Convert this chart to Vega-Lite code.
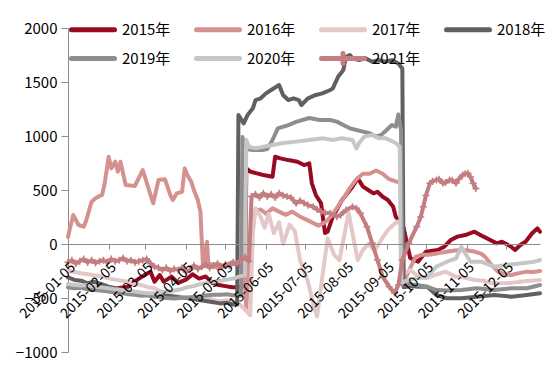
{
"$schema": "https://vega.github.io/schema/vega-lite/v6.json",
"width": 472, "height": 324,
"autosize": {"type": "none"},
"padding": {"left": 68, "top": 28, "right": 10, "bottom": 29},
"background": "white",
"config": {"view": {"stroke": null}, "font": "Noto Sans CJK SC"},
"data": {"values": [
{"s":"2015年","d":"2015-02-02","v":-430},{"s":"2015年","d":"2015-02-07","v":-420},{"s":"2015年","d":"2015-02-12","v":-410},{"s":"2015年","d":"2015-02-17","v":-400},{"s":"2015年","d":"2015-02-20","v":-395},{"s":"2015年","d":"2015-02-24","v":-350},{"s":"2015年","d":"2015-02-27","v":-330},{"s":"2015年","d":"2015-03-04","v":-290},{"s":"2015年","d":"2015-03-09","v":-256},{"s":"2015年","d":"2015-03-12","v":-349},{"s":"2015年","d":"2015-03-16","v":-287},{"s":"2015年","d":"2015-03-19","v":-349},{"s":"2015年","d":"2015-03-25","v":-302},{"s":"2015年","d":"2015-03-30","v":-360},{"s":"2015年","d":"2015-04-05","v":-330},{"s":"2015年","d":"2015-04-10","v":-280},{"s":"2015年","d":"2015-04-15","v":-320},{"s":"2015年","d":"2015-04-20","v":-300},{"s":"2015年","d":"2015-04-25","v":-360},{"s":"2015年","d":"2015-04-30","v":-380},{"s":"2015年","d":"2015-05-05","v":-390},{"s":"2015年","d":"2015-05-10","v":-400},{"s":"2015年","d":"2015-05-15","v":-400},{"s":"2015年","d":"2015-05-20","v":-390},{"s":"2015年","d":"2015-05-21","v":700},{"s":"2015年","d":"2015-05-24","v":670},{"s":"2015年","d":"2015-05-29","v":654},{"s":"2015年","d":"2015-06-03","v":639},{"s":"2015年","d":"2015-06-10","v":623},{"s":"2015年","d":"2015-06-12","v":808},{"s":"2015年","d":"2015-06-16","v":793},{"s":"2015年","d":"2015-06-22","v":777},{"s":"2015年","d":"2015-06-29","v":762},{"s":"2015年","d":"2015-07-04","v":731},{"s":"2015年","d":"2015-07-08","v":747},{"s":"2015年","d":"2015-07-10","v":562},{"s":"2015年","d":"2015-07-13","v":454},{"s":"2015年","d":"2015-07-17","v":377},{"s":"2015年","d":"2015-07-20","v":102},{"s":"2015年","d":"2015-07-22","v":114},{"s":"2015年","d":"2015-07-26","v":253},{"s":"2015年","d":"2015-08-02","v":407},{"s":"2015年","d":"2015-08-10","v":531},{"s":"2015年","d":"2015-08-14","v":608},{"s":"2015年","d":"2015-08-18","v":531},{"s":"2015年","d":"2015-08-22","v":500},{"s":"2015年","d":"2015-08-26","v":469},{"s":"2015年","d":"2015-08-29","v":484},{"s":"2015年","d":"2015-09-02","v":438},{"s":"2015年","d":"2015-09-06","v":407},{"s":"2015年","d":"2015-09-10","v":345},{"s":"2015年","d":"2015-09-12","v":253},{"s":"2015年","d":"2015-09-14","v":222},{"s":"2015年","d":"2015-09-18","v":150},{"s":"2015年","d":"2015-09-23","v":-130},{"s":"2015年","d":"2015-09-29","v":-164},{"s":"2015年","d":"2015-10-05","v":-71},{"s":"2015年","d":"2015-10-14","v":-55},{"s":"2015年","d":"2015-10-19","v":-25},{"s":"2015年","d":"2015-10-24","v":37},{"s":"2015年","d":"2015-10-29","v":68},{"s":"2015年","d":"2015-11-04","v":83},{"s":"2015年","d":"2015-11-11","v":114},{"s":"2015年","d":"2015-11-18","v":68},{"s":"2015年","d":"2015-11-23","v":37},{"s":"2015年","d":"2015-11-28","v":6},{"s":"2015年","d":"2015-12-02","v":21},{"s":"2015年","d":"2015-12-09","v":-25},{"s":"2015年","d":"2015-12-12","v":-55},{"s":"2015年","d":"2015-12-16","v":-9},{"s":"2015年","d":"2015-12-20","v":21},{"s":"2015年","d":"2015-12-25","v":99},{"s":"2015年","d":"2015-12-29","v":145},{"s":"2015年","d":"2015-12-31","v":114},
{"s":"2016年","d":"2015-01-05","v":65},{"s":"2016年","d":"2015-01-06","v":120},{"s":"2016年","d":"2015-01-09","v":269},{"s":"2016年","d":"2015-01-13","v":176},{"s":"2016年","d":"2015-01-17","v":160},{"s":"2016年","d":"2015-01-19","v":222},{"s":"2016年","d":"2015-01-23","v":392},{"s":"2016年","d":"2015-01-26","v":423},{"s":"2016年","d":"2015-01-28","v":438},{"s":"2016年","d":"2015-01-31","v":454},{"s":"2016年","d":"2015-02-02","v":562},{"s":"2016年","d":"2015-02-05","v":808},{"s":"2016年","d":"2015-02-07","v":700},{"s":"2016年","d":"2015-02-10","v":762},{"s":"2016年","d":"2015-02-12","v":670},{"s":"2016年","d":"2015-02-14","v":762},{"s":"2016年","d":"2015-02-18","v":546},{"s":"2016年","d":"2015-02-25","v":537},{"s":"2016年","d":"2015-03-03","v":685},{"s":"2016年","d":"2015-03-07","v":531},{"s":"2016年","d":"2015-03-11","v":377},{"s":"2016年","d":"2015-03-15","v":593},{"s":"2016年","d":"2015-03-20","v":599},{"s":"2016年","d":"2015-03-24","v":454},{"s":"2016年","d":"2015-03-26","v":407},{"s":"2016年","d":"2015-03-29","v":469},{"s":"2016年","d":"2015-04-02","v":484},{"s":"2016年","d":"2015-04-04","v":700},{"s":"2016年","d":"2015-04-06","v":639},{"s":"2016年","d":"2015-04-09","v":577},{"s":"2016年","d":"2015-04-11","v":500},{"s":"2016年","d":"2015-04-14","v":407},{"s":"2016年","d":"2015-04-16","v":299},{"s":"2016年","d":"2015-04-17","v":37},{"s":"2016年","d":"2015-04-18","v":-210},{"s":"2016年","d":"2015-04-21","v":21},{"s":"2016年","d":"2015-04-22","v":-176},{"s":"2016年","d":"2015-04-26","v":-200},{"s":"2016年","d":"2015-04-30","v":-230},{"s":"2016年","d":"2015-05-05","v":-200},{"s":"2016年","d":"2015-05-10","v":-170},{"s":"2016年","d":"2015-05-15","v":-210},{"s":"2016年","d":"2015-05-19","v":-120},{"s":"2016年","d":"2015-05-21","v":-600},{"s":"2016年","d":"2015-05-23","v":-150},{"s":"2016年","d":"2015-05-26","v":300},{"s":"2016年","d":"2015-06-01","v":320},{"s":"2016年","d":"2015-06-05","v":280},{"s":"2016年","d":"2015-06-10","v":330},{"s":"2016年","d":"2015-06-15","v":300},{"s":"2016年","d":"2015-06-20","v":270},{"s":"2016年","d":"2015-06-25","v":300},{"s":"2016年","d":"2015-06-30","v":260},{"s":"2016年","d":"2015-07-05","v":230},{"s":"2016年","d":"2015-07-10","v":200},{"s":"2016年","d":"2015-07-15","v":170},{"s":"2016年","d":"2015-07-20","v":200},{"s":"2016年","d":"2015-07-25","v":260},{"s":"2016年","d":"2015-07-30","v":350},{"s":"2016年","d":"2015-08-04","v":440},{"s":"2016年","d":"2015-08-08","v":520},{"s":"2016年","d":"2015-08-13","v":600},{"s":"2016年","d":"2015-08-18","v":650},{"s":"2016年","d":"2015-08-23","v":650},{"s":"2016年","d":"2015-08-28","v":680},{"s":"2016年","d":"2015-09-02","v":650},{"s":"2016年","d":"2015-09-07","v":600},{"s":"2016年","d":"2015-09-12","v":580},{"s":"2016年","d":"2015-09-16","v":560},{"s":"2016年","d":"2015-09-18","v":-350},{"s":"2016年","d":"2015-09-22","v":-250},{"s":"2016年","d":"2015-09-27","v":-120},{"s":"2016年","d":"2015-10-02","v":-100},{"s":"2016年","d":"2015-10-07","v":-100},{"s":"2016年","d":"2015-10-12","v":-90},{"s":"2016年","d":"2015-10-17","v":-80},{"s":"2016年","d":"2015-10-22","v":-70},{"s":"2016年","d":"2015-10-27","v":-60},{"s":"2016年","d":"2015-11-01","v":-55},{"s":"2016年","d":"2015-11-06","v":-60},{"s":"2016年","d":"2015-11-11","v":-70},{"s":"2016年","d":"2015-11-16","v":-90},{"s":"2016年","d":"2015-11-19","v":-117},{"s":"2016年","d":"2015-11-24","v":-194},{"s":"2016年","d":"2015-11-29","v":-256},{"s":"2016年","d":"2015-12-04","v":-280},{"s":"2016年","d":"2015-12-09","v":-287},{"s":"2016年","d":"2015-12-15","v":-270},{"s":"2016年","d":"2015-12-21","v":-256},{"s":"2016年","d":"2015-12-26","v":-260},{"s":"2016年","d":"2015-12-31","v":-250},
{"s":"2017年","d":"2015-01-05","v":-240},{"s":"2017年","d":"2015-01-10","v":-260},{"s":"2017年","d":"2015-01-15","v":-270},{"s":"2017年","d":"2015-01-20","v":-280},{"s":"2017年","d":"2015-01-25","v":-290},{"s":"2017年","d":"2015-01-30","v":-300},{"s":"2017年","d":"2015-02-05","v":-318},{"s":"2017年","d":"2015-02-10","v":-330},{"s":"2017年","d":"2015-02-15","v":-340},{"s":"2017年","d":"2015-02-20","v":-350},{"s":"2017年","d":"2015-02-25","v":-370},{"s":"2017年","d":"2015-03-02","v":-380},{"s":"2017年","d":"2015-03-07","v":-400},{"s":"2017年","d":"2015-03-12","v":-410},{"s":"2017年","d":"2015-03-17","v":-440},{"s":"2017年","d":"2015-03-22","v":-460},{"s":"2017年","d":"2015-03-27","v":-480},{"s":"2017年","d":"2015-04-01","v":-490},{"s":"2017年","d":"2015-04-06","v":-500},{"s":"2017年","d":"2015-04-11","v":-500},{"s":"2017年","d":"2015-04-16","v":-510},{"s":"2017年","d":"2015-04-21","v":-500},{"s":"2017年","d":"2015-04-26","v":-520},{"s":"2017年","d":"2015-05-01","v":-530},{"s":"2017年","d":"2015-05-06","v":-520},{"s":"2017年","d":"2015-05-11","v":-540},{"s":"2017年","d":"2015-05-16","v":-560},{"s":"2017年","d":"2015-05-21","v":-620},{"s":"2017年","d":"2015-05-24","v":-660},{"s":"2017年","d":"2015-05-26","v":100},{"s":"2017年","d":"2015-05-28","v":330},{"s":"2017年","d":"2015-06-01","v":250},{"s":"2017年","d":"2015-06-04","v":150},{"s":"2017年","d":"2015-06-07","v":280},{"s":"2017年","d":"2015-06-11","v":100},{"s":"2017年","d":"2015-06-15","v":200},{"s":"2017年","d":"2015-06-18","v":0},{"s":"2017年","d":"2015-06-23","v":180},{"s":"2017年","d":"2015-06-27","v":120},{"s":"2017年","d":"2015-07-01","v":-150},{"s":"2017年","d":"2015-07-07","v":-350},{"s":"2017年","d":"2015-07-11","v":-550},{"s":"2017年","d":"2015-07-14","v":-670},{"s":"2017年","d":"2015-07-18","v":-300},{"s":"2017年","d":"2015-07-22","v":50},{"s":"2017年","d":"2015-07-27","v":-100},{"s":"2017年","d":"2015-07-31","v":-150},{"s":"2017年","d":"2015-08-05","v":160},{"s":"2017年","d":"2015-08-07","v":290},{"s":"2017年","d":"2015-08-10","v":100},{"s":"2017年","d":"2015-08-14","v":-150},{"s":"2017年","d":"2015-08-18","v":-55},{"s":"2017年","d":"2015-08-22","v":0},{"s":"2017年","d":"2015-08-27","v":-60},{"s":"2017年","d":"2015-09-01","v":40},{"s":"2017年","d":"2015-09-06","v":130},{"s":"2017年","d":"2015-09-10","v":176},{"s":"2017年","d":"2015-09-13","v":207},{"s":"2017年","d":"2015-09-16","v":180},{"s":"2017年","d":"2015-09-18","v":-280},{"s":"2017年","d":"2015-09-23","v":-240},{"s":"2017年","d":"2015-09-29","v":-300},{"s":"2017年","d":"2015-10-05","v":-318},{"s":"2017年","d":"2015-10-12","v":-287},{"s":"2017年","d":"2015-10-20","v":-256},{"s":"2017年","d":"2015-10-27","v":-300},{"s":"2017年","d":"2015-11-03","v":-310},{"s":"2017年","d":"2015-11-11","v":-333},{"s":"2017年","d":"2015-11-18","v":-340},{"s":"2017年","d":"2015-11-25","v":-364},{"s":"2017年","d":"2015-12-02","v":-364},{"s":"2017年","d":"2015-12-09","v":-360},{"s":"2017年","d":"2015-12-16","v":-349},{"s":"2017年","d":"2015-12-23","v":-340},{"s":"2017年","d":"2015-12-31","v":-333},
{"s":"2018年","d":"2015-01-05","v":-310},{"s":"2018年","d":"2015-01-10","v":-333},{"s":"2018年","d":"2015-01-15","v":-340},{"s":"2018年","d":"2015-01-20","v":-364},{"s":"2018年","d":"2015-01-25","v":-350},{"s":"2018年","d":"2015-01-30","v":-370},{"s":"2018年","d":"2015-02-05","v":-395},{"s":"2018年","d":"2015-02-10","v":-410},{"s":"2018年","d":"2015-02-15","v":-426},{"s":"2018年","d":"2015-02-20","v":-441},{"s":"2018年","d":"2015-02-25","v":-450},{"s":"2018年","d":"2015-03-02","v":-457},{"s":"2018年","d":"2015-03-07","v":-465},{"s":"2018年","d":"2015-03-12","v":-472},{"s":"2018年","d":"2015-03-17","v":-470},{"s":"2018年","d":"2015-03-22","v":-480},{"s":"2018年","d":"2015-03-27","v":-488},{"s":"2018年","d":"2015-04-01","v":-495},{"s":"2018年","d":"2015-04-06","v":-500},{"s":"2018年","d":"2015-04-11","v":-510},{"s":"2018年","d":"2015-04-16","v":-520},{"s":"2018年","d":"2015-04-21","v":-530},{"s":"2018年","d":"2015-04-26","v":-540},{"s":"2018年","d":"2015-05-01","v":-550},{"s":"2018年","d":"2015-05-06","v":-545},{"s":"2018年","d":"2015-05-11","v":-560},{"s":"2018年","d":"2015-05-14","v":-560},{"s":"2018年","d":"2015-05-15","v":1195},{"s":"2018年","d":"2015-05-19","v":1117},{"s":"2018年","d":"2015-05-22","v":1195},{"s":"2018年","d":"2015-05-26","v":1256},{"s":"2018年","d":"2015-05-28","v":1333},{"s":"2018年","d":"2015-06-01","v":1349},{"s":"2018年","d":"2015-06-05","v":1395},{"s":"2018年","d":"2015-06-09","v":1426},{"s":"2018年","d":"2015-06-13","v":1457},{"s":"2018年","d":"2015-06-15","v":1472},{"s":"2018年","d":"2015-06-18","v":1380},{"s":"2018年","d":"2015-06-22","v":1333},{"s":"2018年","d":"2015-06-26","v":1349},{"s":"2018年","d":"2015-06-30","v":1333},{"s":"2018年","d":"2015-07-02","v":1287},{"s":"2018年","d":"2015-07-07","v":1349},{"s":"2018年","d":"2015-07-13","v":1380},{"s":"2018年","d":"2015-07-18","v":1395},{"s":"2018年","d":"2015-07-24","v":1426},{"s":"2018年","d":"2015-07-26","v":1441},{"s":"2018年","d":"2015-07-30","v":1549},{"s":"2018年","d":"2015-08-03","v":1611},{"s":"2018年","d":"2015-08-05","v":1734},{"s":"2018年","d":"2015-08-08","v":1750},{"s":"2018年","d":"2015-08-10","v":1719},{"s":"2018年","d":"2015-08-15","v":1703},{"s":"2018年","d":"2015-08-20","v":1719},{"s":"2018年","d":"2015-08-25","v":1688},{"s":"2018年","d":"2015-08-30","v":1703},{"s":"2018年","d":"2015-09-04","v":1688},{"s":"2018年","d":"2015-09-09","v":1703},{"s":"2018年","d":"2015-09-14","v":1672},{"s":"2018年","d":"2015-09-17","v":1626},{"s":"2018年","d":"2015-09-18","v":-400},{"s":"2018年","d":"2015-09-24","v":-390},{"s":"2018年","d":"2015-09-29","v":-395},{"s":"2018年","d":"2015-10-06","v":-395},{"s":"2018年","d":"2015-10-13","v":-472},{"s":"2018年","d":"2015-10-21","v":-503},{"s":"2018年","d":"2015-11-01","v":-503},{"s":"2018年","d":"2015-11-13","v":-488},{"s":"2018年","d":"2015-11-26","v":-472},{"s":"2018年","d":"2015-12-09","v":-488},{"s":"2018年","d":"2015-12-21","v":-472},{"s":"2018年","d":"2015-12-31","v":-457},
{"s":"2019年","d":"2015-01-05","v":-400},{"s":"2019年","d":"2015-01-10","v":-410},{"s":"2019年","d":"2015-01-15","v":-405},{"s":"2019年","d":"2015-01-20","v":-420},{"s":"2019年","d":"2015-01-25","v":-425},{"s":"2019年","d":"2015-01-30","v":-430},{"s":"2019年","d":"2015-02-05","v":-440},{"s":"2019年","d":"2015-02-10","v":-450},{"s":"2019年","d":"2015-02-15","v":-455},{"s":"2019年","d":"2015-02-20","v":-465},{"s":"2019年","d":"2015-02-25","v":-470},{"s":"2019年","d":"2015-03-02","v":-480},{"s":"2019年","d":"2015-03-07","v":-475},{"s":"2019年","d":"2015-03-12","v":-490},{"s":"2019年","d":"2015-03-17","v":-495},{"s":"2019年","d":"2015-03-22","v":-500},{"s":"2019年","d":"2015-03-27","v":-505},{"s":"2019年","d":"2015-04-01","v":-500},{"s":"2019年","d":"2015-04-06","v":-495},{"s":"2019年","d":"2015-04-11","v":-490},{"s":"2019年","d":"2015-04-16","v":-485},{"s":"2019年","d":"2015-04-21","v":-475},{"s":"2019年","d":"2015-04-26","v":-470},{"s":"2019年","d":"2015-05-01","v":-470},{"s":"2019年","d":"2015-05-06","v":-465},{"s":"2019年","d":"2015-05-11","v":-475},{"s":"2019年","d":"2015-05-17","v":-480},{"s":"2019年","d":"2015-05-18","v":990},{"s":"2019年","d":"2015-05-21","v":880},{"s":"2019年","d":"2015-05-26","v":870},{"s":"2019年","d":"2015-06-02","v":870},{"s":"2019年","d":"2015-06-06","v":880},{"s":"2019年","d":"2015-06-10","v":963},{"s":"2019年","d":"2015-06-14","v":1070},{"s":"2019年","d":"2015-06-22","v":1100},{"s":"2019年","d":"2015-06-28","v":1130},{"s":"2019年","d":"2015-07-08","v":1167},{"s":"2019年","d":"2015-07-16","v":1148},{"s":"2019年","d":"2015-07-24","v":1148},{"s":"2019年","d":"2015-07-29","v":1133},{"s":"2019年","d":"2015-08-03","v":1102},{"s":"2019年","d":"2015-08-08","v":1071},{"s":"2019年","d":"2015-08-13","v":1056},{"s":"2019年","d":"2015-08-18","v":1040},{"s":"2019年","d":"2015-08-23","v":1025},{"s":"2019年","d":"2015-08-28","v":994},{"s":"2019年","d":"2015-09-01","v":1010},{"s":"2019年","d":"2015-09-05","v":1056},{"s":"2019年","d":"2015-09-09","v":1102},{"s":"2019年","d":"2015-09-12","v":1086},{"s":"2019年","d":"2015-09-14","v":1200},{"s":"2019年","d":"2015-09-16","v":1050},{"s":"2019年","d":"2015-09-17","v":-380},{"s":"2019年","d":"2015-09-22","v":-370},{"s":"2019年","d":"2015-09-28","v":-380},{"s":"2019年","d":"2015-10-06","v":-395},{"s":"2019年","d":"2015-10-13","v":-426},{"s":"2019年","d":"2015-10-21","v":-430},{"s":"2019年","d":"2015-11-01","v":-426},{"s":"2019年","d":"2015-11-13","v":-410},{"s":"2019年","d":"2015-11-26","v":-426},{"s":"2019年","d":"2015-12-09","v":-410},{"s":"2019年","d":"2015-12-21","v":-410},{"s":"2019年","d":"2015-12-31","v":-380},
{"s":"2020年","d":"2015-01-05","v":-370},{"s":"2020年","d":"2015-01-10","v":-380},{"s":"2020年","d":"2015-01-15","v":-385},{"s":"2020年","d":"2015-01-20","v":-380},{"s":"2020年","d":"2015-01-25","v":-395},{"s":"2020年","d":"2015-01-30","v":-400},{"s":"2020年","d":"2015-02-05","v":-410},{"s":"2020年","d":"2015-02-10","v":-420},{"s":"2020年","d":"2015-02-15","v":-426},{"s":"2020年","d":"2015-02-20","v":-435},{"s":"2020年","d":"2015-02-25","v":-441},{"s":"2020年","d":"2015-03-02","v":-450},{"s":"2020年","d":"2015-03-07","v":-455},{"s":"2020年","d":"2015-03-12","v":-457},{"s":"2020年","d":"2015-03-17","v":-450},{"s":"2020年","d":"2015-03-22","v":-440},{"s":"2020年","d":"2015-03-27","v":-430},{"s":"2020年","d":"2015-04-01","v":-420},{"s":"2020年","d":"2015-04-06","v":-400},{"s":"2020年","d":"2015-04-11","v":-390},{"s":"2020年","d":"2015-04-16","v":-370},{"s":"2020年","d":"2015-04-21","v":-360},{"s":"2020年","d":"2015-04-26","v":-350},{"s":"2020年","d":"2015-05-01","v":-340},{"s":"2020年","d":"2015-05-06","v":-330},{"s":"2020年","d":"2015-05-11","v":-320},{"s":"2020年","d":"2015-05-16","v":-300},{"s":"2020年","d":"2015-05-20","v":-290},{"s":"2020年","d":"2015-05-21","v":963},{"s":"2020年","d":"2015-05-23","v":901},{"s":"2020年","d":"2015-05-28","v":886},{"s":"2020年","d":"2015-06-03","v":901},{"s":"2020年","d":"2015-06-10","v":917},{"s":"2020年","d":"2015-06-18","v":935},{"s":"2020年","d":"2015-06-28","v":948},{"s":"2020年","d":"2015-07-08","v":963},{"s":"2020年","d":"2015-07-18","v":980},{"s":"2020年","d":"2015-07-26","v":963},{"s":"2020年","d":"2015-08-02","v":980},{"s":"2020年","d":"2015-08-10","v":963},{"s":"2020年","d":"2015-08-13","v":886},{"s":"2020年","d":"2015-08-15","v":935},{"s":"2020年","d":"2015-08-19","v":994},{"s":"2020年","d":"2015-08-25","v":1010},{"s":"2020年","d":"2015-08-30","v":980},{"s":"2020年","d":"2015-09-04","v":980},{"s":"2020年","d":"2015-09-12","v":935},{"s":"2020年","d":"2015-09-15","v":901},{"s":"2020年","d":"2015-09-16","v":-360},{"s":"2020年","d":"2015-09-22","v":-330},{"s":"2020年","d":"2015-09-28","v":-320},{"s":"2020年","d":"2015-10-06","v":-302},{"s":"2020年","d":"2015-10-13","v":-210},{"s":"2020年","d":"2015-10-21","v":-164},{"s":"2020年","d":"2015-10-28","v":-133},{"s":"2020年","d":"2015-11-01","v":-25},{"s":"2020年","d":"2015-11-04","v":-86},{"s":"2020年","d":"2015-11-08","v":-164},{"s":"2020年","d":"2015-11-16","v":-164},{"s":"2020年","d":"2015-11-26","v":-210},{"s":"2020年","d":"2015-12-06","v":-194},{"s":"2020年","d":"2015-12-17","v":-179},{"s":"2020年","d":"2015-12-27","v":-164},{"s":"2020年","d":"2015-12-31","v":-148},
{"s":"2021年","d":"2015-01-05","v":-170},{"s":"2021年","d":"2015-01-08","v":-150},{"s":"2021年","d":"2015-01-11","v":-180},{"s":"2021年","d":"2015-01-14","v":-160},{"s":"2021年","d":"2015-01-17","v":-140},{"s":"2021年","d":"2015-01-20","v":-170},{"s":"2021年","d":"2015-01-23","v":-150},{"s":"2021年","d":"2015-01-26","v":-175},{"s":"2021年","d":"2015-01-29","v":-160},{"s":"2021年","d":"2015-02-01","v":-150},{"s":"2021年","d":"2015-02-04","v":-170},{"s":"2021年","d":"2015-02-07","v":-140},{"s":"2021年","d":"2015-02-10","v":-160},{"s":"2021年","d":"2015-02-13","v":-150},{"s":"2021年","d":"2015-02-16","v":-130},{"s":"2021年","d":"2015-02-19","v":-160},{"s":"2021年","d":"2015-02-22","v":-150},{"s":"2021年","d":"2015-02-25","v":-170},{"s":"2021年","d":"2015-02-28","v":-160},{"s":"2021年","d":"2015-03-03","v":-150},{"s":"2021年","d":"2015-03-06","v":-140},{"s":"2021年","d":"2015-03-09","v":-180},{"s":"2021年","d":"2015-03-12","v":-210},{"s":"2021年","d":"2015-03-15","v":-220},{"s":"2021年","d":"2015-03-18","v":-240},{"s":"2021年","d":"2015-03-21","v":-220},{"s":"2021年","d":"2015-03-24","v":-250},{"s":"2021年","d":"2015-03-27","v":-230},{"s":"2021年","d":"2015-03-30","v":-240},{"s":"2021年","d":"2015-04-02","v":-220},{"s":"2021年","d":"2015-04-05","v":-260},{"s":"2021年","d":"2015-04-08","v":-240},{"s":"2021年","d":"2015-04-11","v":-200},{"s":"2021年","d":"2015-04-14","v":-230},{"s":"2021年","d":"2015-04-17","v":-210},{"s":"2021年","d":"2015-04-20","v":-190},{"s":"2021年","d":"2015-04-23","v":-220},{"s":"2021年","d":"2015-04-26","v":-200},{"s":"2021年","d":"2015-04-29","v":-180},{"s":"2021年","d":"2015-05-02","v":-210},{"s":"2021年","d":"2015-05-05","v":-190},{"s":"2021年","d":"2015-05-08","v":-200},{"s":"2021年","d":"2015-05-11","v":-170},{"s":"2021年","d":"2015-05-14","v":-180},{"s":"2021年","d":"2015-05-17","v":-150},{"s":"2021年","d":"2015-05-20","v":-120},{"s":"2021年","d":"2015-05-23","v":-160},{"s":"2021年","d":"2015-05-25","v":440},{"s":"2021年","d":"2015-05-28","v":460},{"s":"2021年","d":"2015-05-31","v":430},{"s":"2021年","d":"2015-06-03","v":470},{"s":"2021年","d":"2015-06-06","v":440},{"s":"2021年","d":"2015-06-09","v":460},{"s":"2021年","d":"2015-06-12","v":430},{"s":"2021年","d":"2015-06-15","v":470},{"s":"2021年","d":"2015-06-18","v":450},{"s":"2021年","d":"2015-06-21","v":440},{"s":"2021年","d":"2015-06-24","v":430},{"s":"2021年","d":"2015-06-28","v":377},{"s":"2021年","d":"2015-07-01","v":400},{"s":"2021年","d":"2015-07-04","v":380},{"s":"2021年","d":"2015-07-07","v":360},{"s":"2021年","d":"2015-07-11","v":345},{"s":"2021年","d":"2015-07-14","v":320},{"s":"2021年","d":"2015-07-17","v":300},{"s":"2021年","d":"2015-07-20","v":290},{"s":"2021年","d":"2015-07-24","v":284},{"s":"2021年","d":"2015-07-29","v":253},{"s":"2021年","d":"2015-08-01","v":270},{"s":"2021年","d":"2015-08-05","v":315},{"s":"2021年","d":"2015-08-10","v":345},{"s":"2021年","d":"2015-08-13","v":330},{"s":"2021年","d":"2015-08-16","v":284},{"s":"2021年","d":"2015-08-21","v":160},{"s":"2021年","d":"2015-08-25","v":9},{"s":"2021年","d":"2015-08-29","v":-148},{"s":"2021年","d":"2015-09-02","v":-302},{"s":"2021年","d":"2015-09-07","v":-395},{"s":"2021年","d":"2015-09-11","v":-453},{"s":"2021年","d":"2015-09-14","v":-380},{"s":"2021年","d":"2015-09-17","v":-148},{"s":"2021年","d":"2015-09-22","v":9},{"s":"2021年","d":"2015-09-28","v":160},{"s":"2021年","d":"2015-10-01","v":250},{"s":"2021年","d":"2015-10-03","v":345},{"s":"2021年","d":"2015-10-05","v":450},{"s":"2021年","d":"2015-10-08","v":562},{"s":"2021年","d":"2015-10-10","v":580},{"s":"2021年","d":"2015-10-13","v":593},{"s":"2021年","d":"2015-10-15","v":600},{"s":"2021年","d":"2015-10-18","v":562},{"s":"2021年","d":"2015-10-20","v":570},{"s":"2021年","d":"2015-10-23","v":593},{"s":"2021年","d":"2015-10-25","v":590},{"s":"2021年","d":"2015-10-28","v":562},{"s":"2021年","d":"2015-10-30","v":600},{"s":"2021年","d":"2015-11-02","v":639},{"s":"2021年","d":"2015-11-04","v":650},{"s":"2021年","d":"2015-11-06","v":654},{"s":"2021年","d":"2015-11-08","v":620},{"s":"2021年","d":"2015-11-10","v":562},{"s":"2021年","d":"2015-11-12","v":515}
]},
"encoding": {
  "x": {"field": "d", "type": "temporal",
    "scale": {"type": "utc", "domain": [{"year": 2015, "month": 1, "date": 5, "utc": true}, {"year": 2015, "month": 12, "date": 31, "utc": true}]},
    "axis": {"orient": "bottom", "offset": -108, "title": null, "grid": false, "format": "%Y-%m-%d",
      "values": [{"year":2015,"month":1,"date":5,"utc":true},{"year":2015,"month":2,"date":5,"utc":true},{"year":2015,"month":3,"date":5,"utc":true},{"year":2015,"month":4,"date":5,"utc":true},{"year":2015,"month":5,"date":5,"utc":true},{"year":2015,"month":6,"date":5,"utc":true},{"year":2015,"month":7,"date":5,"utc":true},{"year":2015,"month":8,"date":5,"utc":true},{"year":2015,"month":9,"date":5,"utc":true},{"year":2015,"month":10,"date":5,"utc":true},{"year":2015,"month":11,"date":5,"utc":true},{"year":2015,"month":12,"date":5,"utc":true}],
      "labelAngle": -45, "labelAlign": "right", "labelBaseline": "middle", "labelFontSize": 14, "labelColor": "#000000",
      "labelPadding": 16, "labelOffset": 5, "labelFlush": false, "labelOverlap": false, "labelBound": false,
      "tickSize": 5, "tickColor": "#8c8c8c", "domainColor": "#8c8c8c", "zindex": 1}},
  "y": {"field": "v", "type": "quantitative",
    "scale": {"domain": [-1000, 2000], "nice": false},
    "axis": {"title": null, "grid": false, "values": [-1000, -500, 0, 500, 1000, 1500, 2000], "format": "d",
      "labelFontSize": 15, "labelColor": "#000000", "labelPadding": 4, "tickSize": 7,
      "tickColor": "#8c8c8c", "domainColor": "#8c8c8c"}}
},
"layer": [
  {"mark": {"type": "line", "strokeWidth": 4, "strokeJoin": "round", "strokeCap": "round"},
   "encoding": {
     "color": {"field": "s", "type": "nominal",
       "scale": {"domain": ["2015年","2016年","2017年","2018年","2019年","2020年","2021年"],
                 "range": ["#970A22","#D5918F","#E4C8C8","#606060","#8E8E8E","#C6C6C6","#C47D80"]},
       "legend": {"title": null, "orient": "none", "legendX": 1, "legendY": -6, "direction": "horizontal", "columns": 4,
         "padding": 0, "symbolSize": 100, "symbolStrokeWidth": 5, "labelFontSize": 15, "labelColor": "#000000",
         "labelOffset": 38, "columnPadding": 15, "rowPadding": 3, "symbolOffset": 0, "labelLimit": 0,
         "encode": {"symbols": {"update": {"shape": {"signal": "datum.value === '2021年' ? 'M-1,0L7.6,0M3.3,-1L3.3,1' : 'M-1,0L7.6,0'"}, "strokeCap": {"value": "round"}}}}}}
   }},
  {"transform": [{"filter": "datum.s === '2021年'"}],
   "mark": {"type": "point", "shape": "M-1,0L1,0M0,-1L0,1", "filled": false, "strokeWidth": 1.5, "size": 50, "color": "#C47D80", "opacity": 1}}
]
}
